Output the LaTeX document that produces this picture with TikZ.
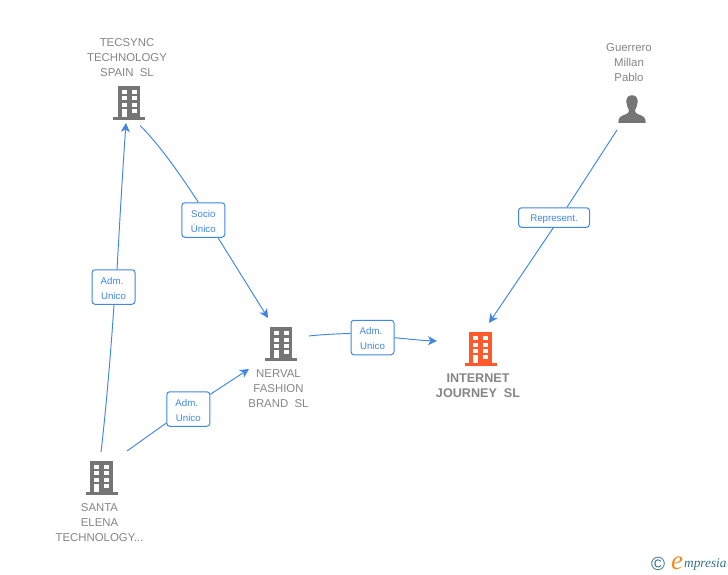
\documentclass[tikz,border=0pt]{standalone}
\usepackage{fontspec}
\setmainfont{Liberation Sans}
\newfontfamily\logofont{Liberation Serif}
\usetikzlibrary{arrows.meta,calc}
\definecolor{linkblue}{HTML}{3F87E3}
\definecolor{icongrey}{HTML}{757575}
\definecolor{textgrey}{HTML}{858585}
\definecolor{hotorange}{HTML}{FF5A2C}
\definecolor{logoteal}{HTML}{2F6F86}
\definecolor{logoorange}{HTML}{F08A24}
\newcommand{\tagdrop}{\rule{0pt}{9.5pt}}
\tikzset{
  link/.style={draw=linkblue,line width=0.95pt},
  linkarrow/.style={link,-{Stealth[length=9pt,width=9pt,inset=2.5pt]}},
  tag/.style={draw=linkblue,line width=1pt,rounded corners=3pt,fill=white,text=linkblue,inner sep=0pt,align=center,font=\fontsize{9.7}{15}\selectfont},
  tagtwo/.style={tag,minimum width=43pt,minimum height=34.5pt},
  tagone/.style={tag,minimum width=71pt,minimum height=19.5pt},
  caption/.style={text=textgrey,align=center,inner sep=0pt,font=\fontsize{11.4}{15}\selectfont},
  captionbold/.style={text=textgrey,align=center,inner sep=0pt,font=\fontsize{12.6}{15}\selectfont\bfseries},
  anchorbox/.style={inner sep=0pt,minimum width=32pt,minimum height=34pt},
  building/.pic={
    \fill[pic actions] (-11.3,-17) rectangle (11.3,14.5);
    \fill[pic actions] (-16,14) rectangle (16,16.8);
    \foreach \yy in {-13,-6.5,0} {
      \fill[white] (-7.3,\yy) rectangle (-2.3,\yy+4);
      \fill[white] (2.7,\yy) rectangle (7.7,\yy+4);
    }
    \fill[white] (2.7,6.3) rectangle (7.7,10.3);
    \fill[white] (-7.3,6.3) rectangle (-2.3,14);
  }
}
\begin{document}
\begin{tikzpicture}[x=1pt,y=-1pt]
\useasboundingbox (0,0) rectangle (728,575);
% icon anchors
\node[anchorbox] (tec) at (129,103) {};
\node[anchorbox] (ner) at (281,344) {};
\node[anchorbox] (int) at (480.5,349) {};
\node[anchorbox] (san) at (101.7,477.7) {};
\node[anchorbox] (gue) at (632,109) {};
\pic[fill=icongrey] at (tec) {building};
\pic[fill=icongrey] at (ner) {building};
\pic[fill=hotorange] at (int) {building};
\pic[fill=icongrey] at (san) {building};
\fill[icongrey] (632,95.2) .. controls (627.5,95.2) and (626,99) .. (626.4,102.5)
  .. controls (626.7,106) and (628,108.5) .. (629,110.2)
  .. controls (629.2,112.5) and (628,113.6) .. (625,114.6)
  .. controls (620.5,116) and (618.3,117.5) .. (618.3,122.8)
  -- (645.7,122.8)
  .. controls (645.7,117.5) and (643.5,116) .. (639,114.6)
  .. controls (636,113.6) and (634.8,112.5) .. (635,110.2)
  .. controls (636,108.5) and (637.3,106) .. (637.6,102.5)
  .. controls (638,99) and (636.5,95.2) .. (632,95.2) -- cycle;
% captions
\node[caption] (tectext) at (127,57.3) {TECSYNC\\TECHNOLOGY\\SPAIN\ \ SL};
\node[caption] (guetext) at (629,62.3) {Guerrero\\Millan\\Pablo};
\node[caption] (nertext) at (278.5,388.3) {NERVAL\\FASHION\\BRAND\ \ SL};
\node[captionbold] (inttext) at (478,385.8) {INTERNET\\JOURNEY\ \ SL};
\node[caption] (santext) at (99.5,522.3) {SANTA\\ELENA\\TECHNOLOGY...};
% tags
\node[tagtwo] (socio) at (203.3,220) {\tagdrop Socio\\Único};
\node[tagtwo] (admleft) at (113.5,287) {\tagdrop Adm.\hspace*{3pt}\\Unico};
\node[tagtwo] (admsan) at (188.3,409) {\tagdrop Adm.\hspace*{3pt}\\Unico};
\node[tagtwo] (admner) at (372.5,337.5) {\tagdrop Adm.\hspace*{3pt}\\Unico};
\node[tagone] (repr) at (554,217.5) {\tagdrop Represent.};
% connector ends
\coordinate (tecOut) at ($(tec)+(11,22.5)$);
\coordinate (tecIn) at ($(tec)+(-3,20)$);
\coordinate (nerIn) at ($(ner)+(-13,-26)$);
\coordinate (nerInLow) at ($(ner)+(-32,25)$);
\coordinate (nerOut) at ($(ner)+(28,-8)$);
\coordinate (intIn) at ($(int)+(-43.5,-8)$);
\coordinate (intTop) at ($(int)+(8.5,-26)$);
\coordinate (sanUp) at ($(san)+(-0.7,-25.7)$);
\coordinate (sanRight) at ($(san)+(25.3,-26.7)$);
\coordinate (gueOut) at ($(gue)+(-15,21)$);
% connectors, meeting each tag where the reference does
\draw[link] (tecOut) .. controls (158,143) and (180,174) .. ($(socio.north)+(-5,0)$);
\draw[linkarrow] ($(socio.south)+(14.7,0)$) -- (nerIn);
\draw[link] (sanUp) .. controls (106,410) and (111,350) .. ($(admleft.south)+(0.5,0)$);
\draw[linkarrow] ($(admleft.north)+(3.5,0)$) .. controls (119,235) and (122,180) .. (tecIn);
\draw[link] (sanRight) -- ($(admsan.west)+(0,14)$);
\draw[linkarrow] ($(admsan.east)+(0,-14.7)$) -- (nerInLow);
\draw[link] (nerOut) .. controls (322,334.5) and (337,333.8) .. ($(admner.west)+(0,-4)$);
\draw[linkarrow] ($(admner.east)+(0,0.2)$) .. controls (408,339) and (422,340.5) .. (intIn);
\draw[link] (gueOut) -- ($(repr.north)+(13,0)$);
\draw[linkarrow] ($(repr.south)+(-0.7,0)$) -- (intTop);
% logo
\node[text=logoteal,inner sep=0pt,font=\fontsize{19}{19}\selectfont] (copyr) at (658,564) {©};
\node[text=logoorange,inner sep=0pt,font=\logofont\fontsize{27}{27}\selectfont\itshape] (logoe) at (677,563.5) {e};
\node[text=logoteal,inner sep=0pt,anchor=west,font=\logofont\fontsize{13.3}{14}\selectfont\itshape] (logotext) at (684,564.5) {mpresia};
\end{tikzpicture}
\end{document}
